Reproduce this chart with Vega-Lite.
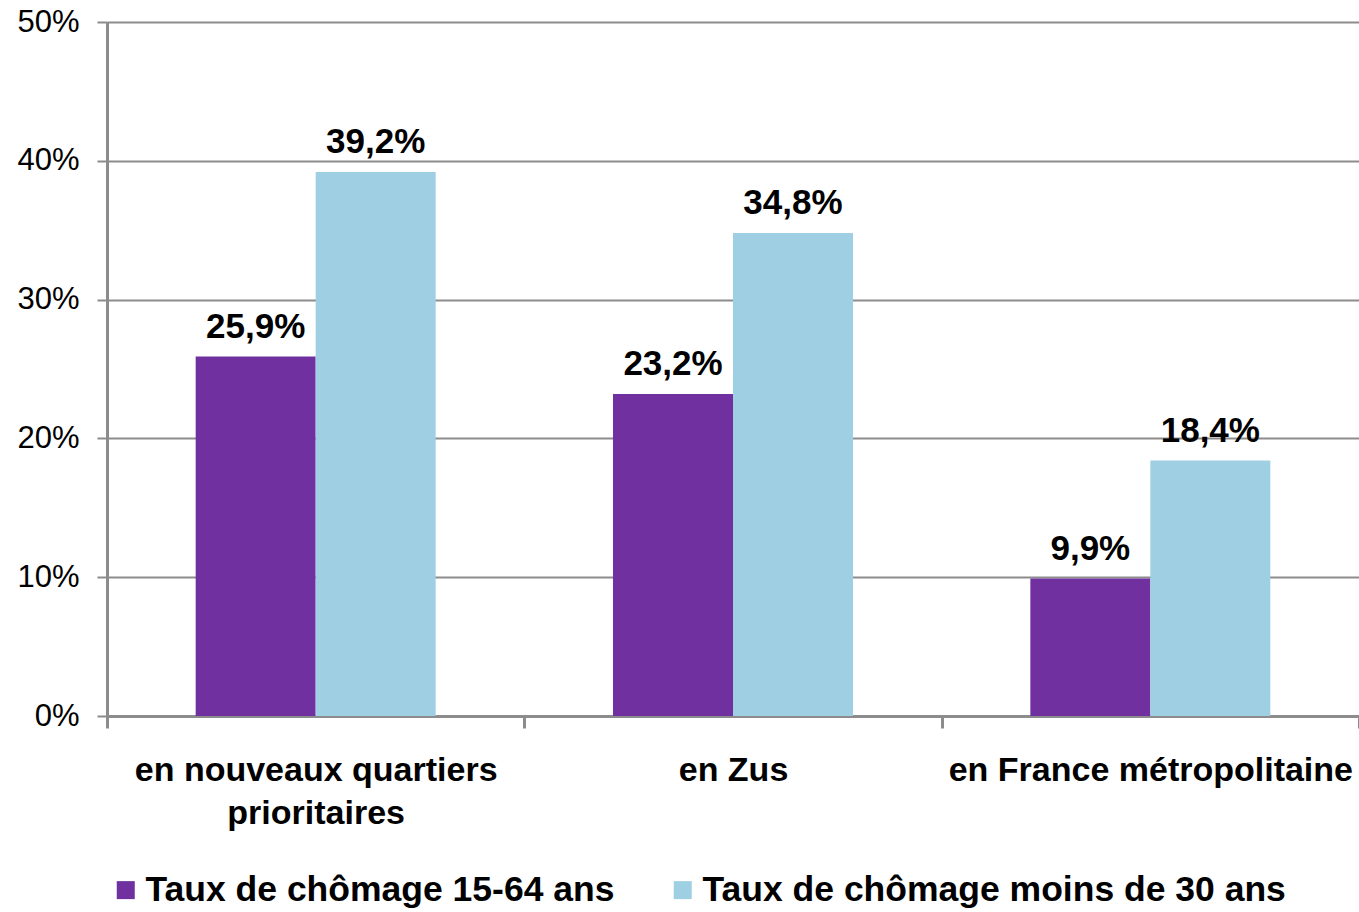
{
  "$schema": "https://vega.github.io/schema/vega-lite/v6.json",
  "autosize": {"type": "none"},
  "width": 1252,
  "height": 694,
  "padding": {"left": 107, "top": 22, "right": 0, "bottom": 196},
  "config": {
    "locale": {"number": {"decimal": ",", "thousands": " ", "grouping": [3], "currency": ["", " €"]}},
    "font": "Liberation Sans",
    "view": {"stroke": null}
  },
  "data": {
    "values": [
      {"zone": "en nouveaux quartiers prioritaires", "serie": "Taux de chômage 15-64 ans", "value": 0.259},
      {"zone": "en nouveaux quartiers prioritaires", "serie": "Taux de chômage moins de 30 ans", "value": 0.392},
      {"zone": "en Zus", "serie": "Taux de chômage 15-64 ans", "value": 0.232},
      {"zone": "en Zus", "serie": "Taux de chômage moins de 30 ans", "value": 0.348},
      {"zone": "en France métropolitaine", "serie": "Taux de chômage 15-64 ans", "value": 0.099},
      {"zone": "en France métropolitaine", "serie": "Taux de chômage moins de 30 ans", "value": 0.184}
    ]
  },
  "encoding": {
    "x": {
      "field": "zone", "type": "nominal", "sort": null,
      "scale": {"paddingInner": 0, "paddingOuter": 0},
      "axis": {
        "title": null, "labelAngle": 0, "labelFontSize": 34, "labelFontWeight": "bold", "labelColor": "#000000",
        "labelLimit": 0, "labelPadding": 25, "labelLineHeight": 43,
        "labelExpr": "datum.label == 'en nouveaux quartiers prioritaires' ? ['en nouveaux quartiers', 'prioritaires'] : datum.label",
        "tickBand": "extent", "tickSize": 12, "tickWidth": 3, "tickColor": "#8c8c8c",
        "domainColor": "#8c8c8c", "domainWidth": 3
      }
    },
    "xOffset": {"field": "serie", "type": "nominal", "sort": null, "scale": {"paddingInner": 0, "paddingOuter": 0.739}},
    "y": {
      "field": "value", "type": "quantitative",
      "scale": {"domain": [0, 0.5], "nice": false},
      "axis": {
        "title": null, "values": [0, 0.1, 0.2, 0.3, 0.4, 0.5], "format": ".0%",
        "labelFontSize": 31, "labelColor": "#000000", "labelPadding": 18,
        "grid": true, "gridColor": "#8c8c8c", "gridWidth": 2,
        "tickSize": 10, "tickWidth": 2, "tickColor": "#8c8c8c",
        "domainColor": "#8c8c8c", "domainWidth": 3
      }
    }
  },
  "layer": [
    {
      "mark": {"type": "bar"},
      "encoding": {
        "color": {
          "field": "serie", "type": "nominal", "sort": null,
          "scale": {"domain": ["Taux de chômage 15-64 ans", "Taux de chômage moins de 30 ans"], "range": ["#7030a0", "#9ecfe2"]},
          "legend": {
            "title": null, "orient": "none", "legendX": 1, "legendY": 850, "direction": "horizontal", "columns": 2,
            "symbolType": "square", "symbolSize": 324, "symbolStrokeWidth": 0, "symbolOpacity": 1,
            "labelFontSize": 35.5, "labelFontWeight": "bold", "labelColor": "#000000", "labelOffset": 2,
            "labelLimit": 0, "columnPadding": 50
          }
        }
      }
    },
    {
      "mark": {"type": "text", "fontSize": 35, "fontWeight": "bold", "color": "#000000", "baseline": "alphabetic", "dy": -19},
      "encoding": {
        "text": {"field": "value", "type": "quantitative", "format": ".1%"}
      }
    }
  ]
}
